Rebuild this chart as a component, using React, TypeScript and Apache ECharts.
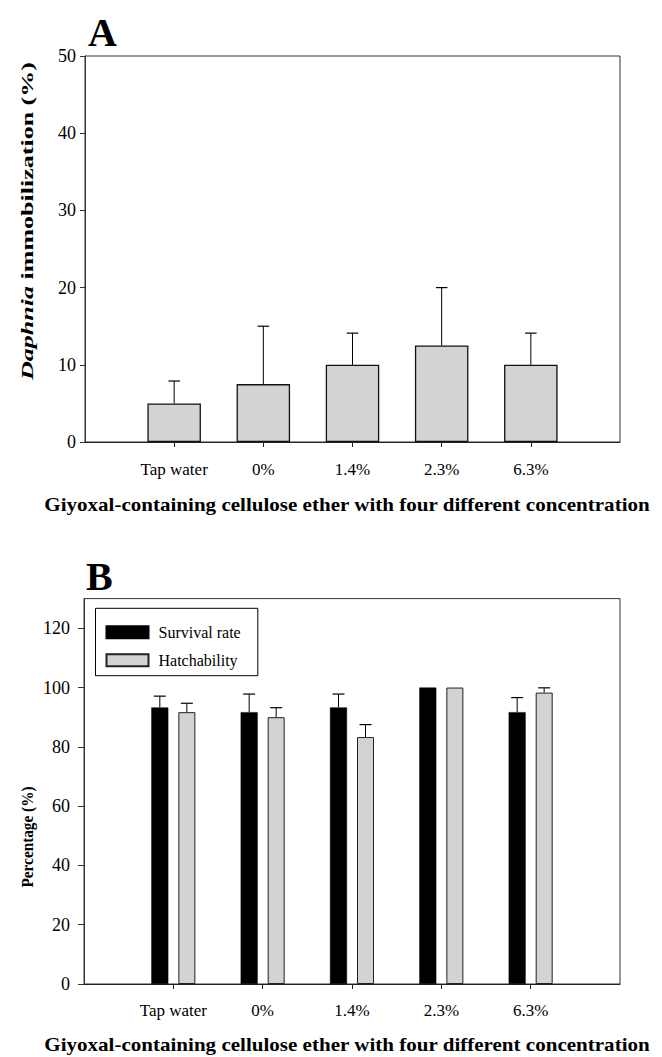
import React, { useEffect, useRef } from "react";
import * as echarts from "echarts";

const categories = ["Tap water", "0%", "1.4%", "2.3%", "6.3%"];
const immobilization = [5, 7.5, 10, 12.5, 10];
const immobilizationSD = [2.9, 7.5, 4.1, 7.5, 4.1];
const survivalRate = [93.3, 91.7, 93.3, 100, 91.7];
const survivalSD = [3.8, 6.1, 4.5, 0, 4.9];
const hatchability = [91.7, 90.0, 83.3, 100, 98.3];
const hatchabilitySD = [3.0, 3.2, 4.2, 0, 1.6];
const yTicksA = [0, 10, 20, 30, 40, 50];
const yTicksB = [0, 20, 40, 60, 80, 100, 120];
const legendNames = ["Survival rate", "Hatchability"];

const FONT = "Times New Roman";

function measure(parts: { text: string; font: string }[]): number {
  const c = document.createElement("canvas");
  const ctx = c.getContext("2d");
  if (!ctx) return 0;
  let w = 0;
  for (const p of parts) {
    ctx.font = p.font;
    w += ctx.measureText(p.text).width;
  }
  return w;
}

export default function App() {
  const ref = useRef<HTMLDivElement>(null);
  useEffect(() => {
    document.body.style.margin = "0";
    if (!ref.current) return;
    const chart = echarts.init(ref.current, null, { renderer: "svg" });

    const padCats = ["", ...categories, ""];
    const pad = (arr: number[]) => ["-", ...arr, "-"] as any[];

    const xTitle = "Giyoxal-containing cellulose ether with four different concentration";
    const xTitleW = measure([{ text: xTitle, font: `bold 18px "${FONT}"` }]);
    const yTitleAW = measure([
      { text: "Daphnia", font: `italic bold 17px "${FONT}"` },
      { text: " immobilization (%)", font: `bold 17px "${FONT}"` },
    ]);
    const yTitleBW = measure([{ text: "Percentage (%)", font: `bold 16px "${FONT}"` }]);

    const errSeries = (
      name: string,
      xi: number,
      yi: number,
      vals: number[],
      sds: number[],
      offset: number,
      cap: number
    ) => ({
      type: "custom",
      name,
      xAxisIndex: xi,
      yAxisIndex: yi,
      z: 5,
      encode: { x: 0, y: 1 },
      data: vals.map((v, i) => [i + 1, v, v + sds[i]]),
      renderItem: (params: any, api: any) => {
        const x = api.value(0);
        const v = api.value(1);
        const u = api.value(2);
        if (u - v <= 0) return { type: "group", children: [] };
        const p0 = api.coord([x, v]);
        const p1 = api.coord([x, u]);
        const cx = p0[0] + offset;
        return {
          type: "group",
          children: [
            {
              type: "line",
              shape: { x1: cx, y1: p0[1], x2: cx, y2: p1[1] },
              style: { stroke: "#000", lineWidth: 1 },
            },
            {
              type: "line",
              shape: { x1: cx - cap / 2, y1: p1[1], x2: cx + cap / 2, y2: p1[1] },
              style: { stroke: "#000", lineWidth: 1.2 },
            },
          ],
        };
      },
    });

    const xAxisBase = (gi: number, margin: number) => ({
      type: "category",
      gridIndex: gi,
      data: padCats,
      boundaryGap: false,
      axisLine: { show: true, lineStyle: { color: "#222", width: 1 } },
      axisTick: {
        show: true,
        length: 5,
        interval: (idx: number) => idx > 0 && idx < padCats.length - 1,
        lineStyle: { color: "#222" },
      },
      axisLabel: {
        interval: 0,
        margin,
        fontFamily: FONT,
        fontSize: 17,
        lineHeight: 17,
        color: "#000",
      },
      splitLine: { show: false },
    });

    const yAxisBase = (gi: number, max: number, interval: number, ticks: number[], margin: number, tickLen: number) => ({
      type: "value",
      gridIndex: gi,
      min: 0,
      max,
      interval,
      axisLine: { show: true, lineStyle: { color: "#333", width: 1 } },
      axisTick: { show: true, length: tickLen, customValues: ticks, lineStyle: { color: "#333" } },
      axisLabel: {
        customValues: ticks,
        margin,
        fontFamily: FONT,
        fontSize: 18,
        color: "#000",
        formatter: (v: number) => (ticks.indexOf(v) >= 0 ? String(v) : ""),
      },
      splitLine: { show: false },
    });

    const option: any = {
      animation: false,
      backgroundColor: "#fff",
      textStyle: { fontFamily: FONT },
      grid: [
        { left: 85, right: 42, top: 56, height: 386, show: true, borderColor: "#333", borderWidth: 1, backgroundColor: "transparent" },
        { left: 84, right: 42, top: 598.6, height: 385.4, show: true, borderColor: "#333", borderWidth: 1, backgroundColor: "transparent" },
      ],
      xAxis: [xAxisBase(0, 18.5), xAxisBase(1, 17.5)],
      yAxis: [yAxisBase(0, 50, 10, yTicksA, 9, 5), yAxisBase(1, 130, 20, yTicksB, 14, 6)],
      legend: {
        orient: "vertical",
        left: 105.5,
        top: 624.3,
        padding: 0,
        itemWidth: 42,
        itemHeight: 12,
        itemGap: 12,
        icon: "rect",
        data: legendNames,
        textStyle: { fontFamily: FONT, fontSize: 16, lineHeight: 12, color: "#000", padding: [0, 0, 0, 5] },
      },
      series: [
        {
          type: "bar",
          name: "Daphnia immobilization",
          xAxisIndex: 0,
          yAxisIndex: 0,
          barWidth: 53.5,
          data: pad(immobilization),
          itemStyle: { color: "#d3d3d3", borderColor: "#111", borderWidth: 1.3 },
        },
        errSeries("immobilization SD", 0, 0, immobilization, immobilizationSD, 0, 11.5),
        {
          type: "bar",
          name: legendNames[0],
          xAxisIndex: 1,
          yAxisIndex: 1,
          barWidth: 17,
          barGap: "59%",
          data: pad(survivalRate),
          itemStyle: { color: "#000", borderColor: "#000", borderWidth: 0.5 },
        },
        {
          type: "bar",
          name: legendNames[1],
          xAxisIndex: 1,
          yAxisIndex: 1,
          barWidth: 17,
          barGap: "59%",
          data: pad(hatchability),
          itemStyle: { color: "#d3d3d3", borderColor: "#222", borderWidth: 1 },
        },
        errSeries("survival SD", 1, 1, survivalRate, survivalSD, -13.5, 12),
        errSeries("hatchability SD", 1, 1, hatchability, hatchabilitySD, 13.5, 12),
      ],
      graphic: [
        {
          type: "rect",
          shape: { x: 95.5, y: 608.3, width: 162.3, height: 67.4 },
          style: { fill: "transparent", stroke: "#000", lineWidth: 1 },
          z: 10,
        },
        {
          type: "text",
          x: 88,
          y: 32.5,
          style: { text: "A", fontFamily: FONT, fontSize: 40, fontWeight: "bold", fill: "#000", align: "left", verticalAlign: "middle" },
        },
        {
          type: "text",
          x: 86,
          y: 576.5,
          style: { text: "B", fontFamily: FONT, fontSize: 40, fontWeight: "bold", fill: "#000", align: "left", verticalAlign: "middle" },
        },
        {
          type: "text",
          x: 347,
          y: 505,
          scaleX: xTitleW ? 606 / xTitleW : 1,
          style: { text: xTitle, fontFamily: FONT, fontSize: 18, fontWeight: "bold", fill: "#000", align: "center", verticalAlign: "middle" },
        },
        {
          type: "text",
          x: 347,
          y: 1045,
          scaleX: xTitleW ? 606 / xTitleW : 1,
          style: { text: xTitle, fontFamily: FONT, fontSize: 18, fontWeight: "bold", fill: "#000", align: "center", verticalAlign: "middle" },
        },
        {
          type: "text",
          x: 27,
          y: 221,
          rotation: Math.PI / 2,
          scaleX: yTitleAW ? 318 / yTitleAW : 1,
          style: {
            text: "{i|Daphnia} immobilization (%)",
            fontFamily: FONT,
            fontSize: 17,
            fontWeight: "bold",
            fill: "#000",
            align: "center",
            verticalAlign: "middle",
            rich: { i: { fontFamily: FONT, fontSize: 17, fontWeight: "bold", fontStyle: "italic", fill: "#000" } },
          },
        },
        {
          type: "text",
          x: 27,
          y: 837,
          rotation: Math.PI / 2,
          scaleX: yTitleBW ? 101 / yTitleBW : 1,
          style: { text: "Percentage (%)", fontFamily: FONT, fontSize: 16, fontWeight: "bold", fill: "#000", align: "center", verticalAlign: "middle" },
        },
      ],
    };

    chart.setOption(option);
    return () => chart.dispose();
  }, []);

  return <div ref={ref} style={{ width: 662, height: 1057 }} />;
}
